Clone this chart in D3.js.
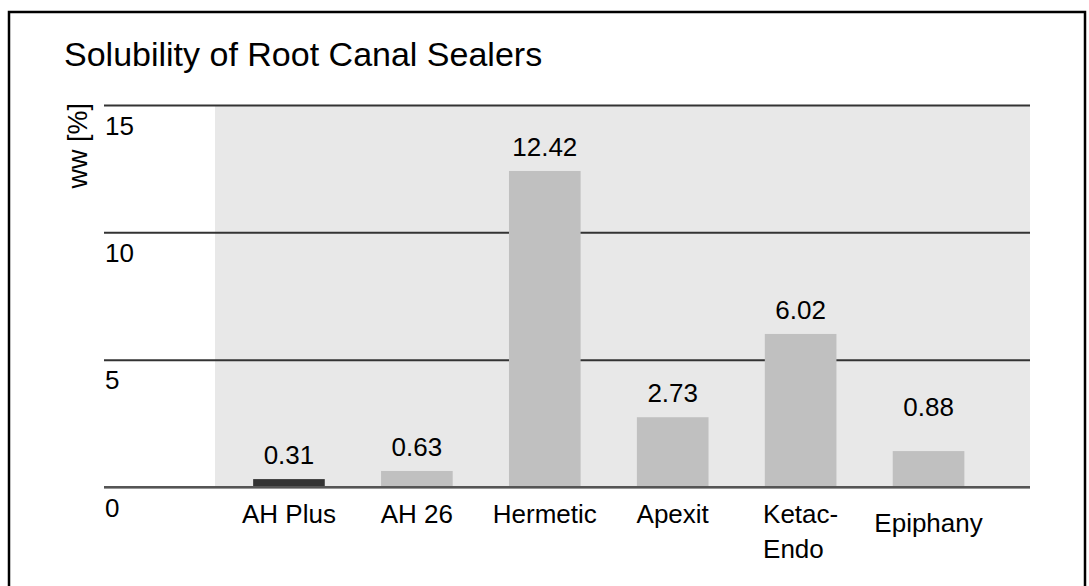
<!DOCTYPE html>
<html>
<head>
<meta charset="utf-8">
<script src="https://cdn.jsdelivr.net/npm/d3@7"></script>
<style>
  body { margin: 0; background: #fff; }
  text { font-family: "Liberation Sans", Arial, sans-serif; fill: #000; }
</style>
</head>
<body>
<script>
const sealers = ['AH Plus', 'AH 26', 'Hermetic', 'Apexit', 'Ketac-\nEndo', 'Epiphany'];
const barValues = [0.31, 0.63, 12.41, 2.74, 6.01, 1.41];
const valueLabels = ['0.31', '0.63', '12.42', '2.73', '6.02', '0.88'];
const yTicks = [0, 5, 10, 15];

const width = 1089;
const height = 586;

const svg = d3.select('body').append('svg')
  .attr('width', width)
  .attr('height', height);

// frame round the whole chart, bottom edge runs past the window
svg.append('rect')
  .attr('x', 9).attr('y', 12)
  .attr('width', 1076).attr('height', 620)
  .attr('fill', 'none')
  .attr('stroke', '#000')
  .attr('stroke-width', 2.5);

svg.append('text')
  .attr('x', 64).attr('y', 66)
  .style('font-size', '34px')
  .text('Solubility of Root Canal Sealers');

const y = d3.scaleLinear().domain([0, 15]).range([487, 105]);
const x = d3.scaleBand()
  .domain(sealers)
  .range([225, 992.5])
  .paddingInner(0.44)
  .paddingOuter(0.22);

// plot background
svg.append('rect')
  .attr('x', 215).attr('y', y(15))
  .attr('width', 1030 - 215).attr('height', y(0) - y(15))
  .attr('fill', '#e8e8e8');

const yAxis = svg.append('g')
  .attr('transform', 'translate(104,0)')
  .call(d3.axisRight(y).tickValues(yTicks).tickSize(926).tickFormat(d3.format('d')));
yAxis.select('.domain').remove();
yAxis.selectAll('line').attr('stroke', '#333').attr('stroke-width', 2);
yAxis.selectAll('text')
  .attr('x', 1).attr('dy', 29)
  .attr('text-anchor', 'start')
  .attr('fill', '#000')
  .style('font-size', '26px')
  .style('font-family', '"Liberation Sans", Arial, sans-serif');

svg.append('text')
  .attr('transform', 'translate(87,103) rotate(-90)')
  .attr('text-anchor', 'end')
  .style('font-size', '27px')
  .text('ww [%]');

svg.append('g')
  .selectAll('rect')
  .data(sealers)
  .enter().append('rect')
    .attr('x', d => x(d))
    .attr('y', (d, i) => y(barValues[i]))
    .attr('width', x.bandwidth())
    .attr('height', (d, i) => y(0) - y(barValues[i]))
    .attr('fill', (d, i) => i === 0 ? '#333333' : '#c0c0c0');

// redraw the zero line over the bars
svg.append('line')
  .attr('x1', 104).attr('x2', 1030)
  .attr('y1', y(0)).attr('y2', y(0))
  .attr('stroke', '#555').attr('stroke-width', 2);

svg.append('g')
  .selectAll('text')
  .data(valueLabels)
  .enter().append('text')
    .attr('x', (d, i) => x(sealers[i]) + x.bandwidth() / 2)
    .attr('y', (d, i) => y(barValues[i]) - (sealers[i] === 'Epiphany' ? 35 : 15))
    .attr('text-anchor', 'middle')
    .style('font-size', '26px')
    .text(d => d);

const catLabels = svg.append('g')
  .selectAll('text')
  .data(sealers)
  .enter().append('text')
    .style('font-size', '26px')
    .attr('y', d => d === 'Epiphany' ? 532 : 523);

catLabels.each(function(d) {
  const t = d3.select(this);
  const lines = d.split('\n');
  const cx = x(d) + x.bandwidth() / 2;
  if (lines.length === 1) {
    t.attr('x', cx).attr('text-anchor', 'middle').text(d);
    return;
  }
  lines.forEach((l, k) => {
    t.append('tspan').attr('dy', k === 0 ? 0 : 35).text(l);
  });
  const w = d3.max(t.selectAll('tspan').nodes(), n => n.getComputedTextLength());
  t.selectAll('tspan').attr('x', cx - w / 2);
});
</script>
</body>
</html>
